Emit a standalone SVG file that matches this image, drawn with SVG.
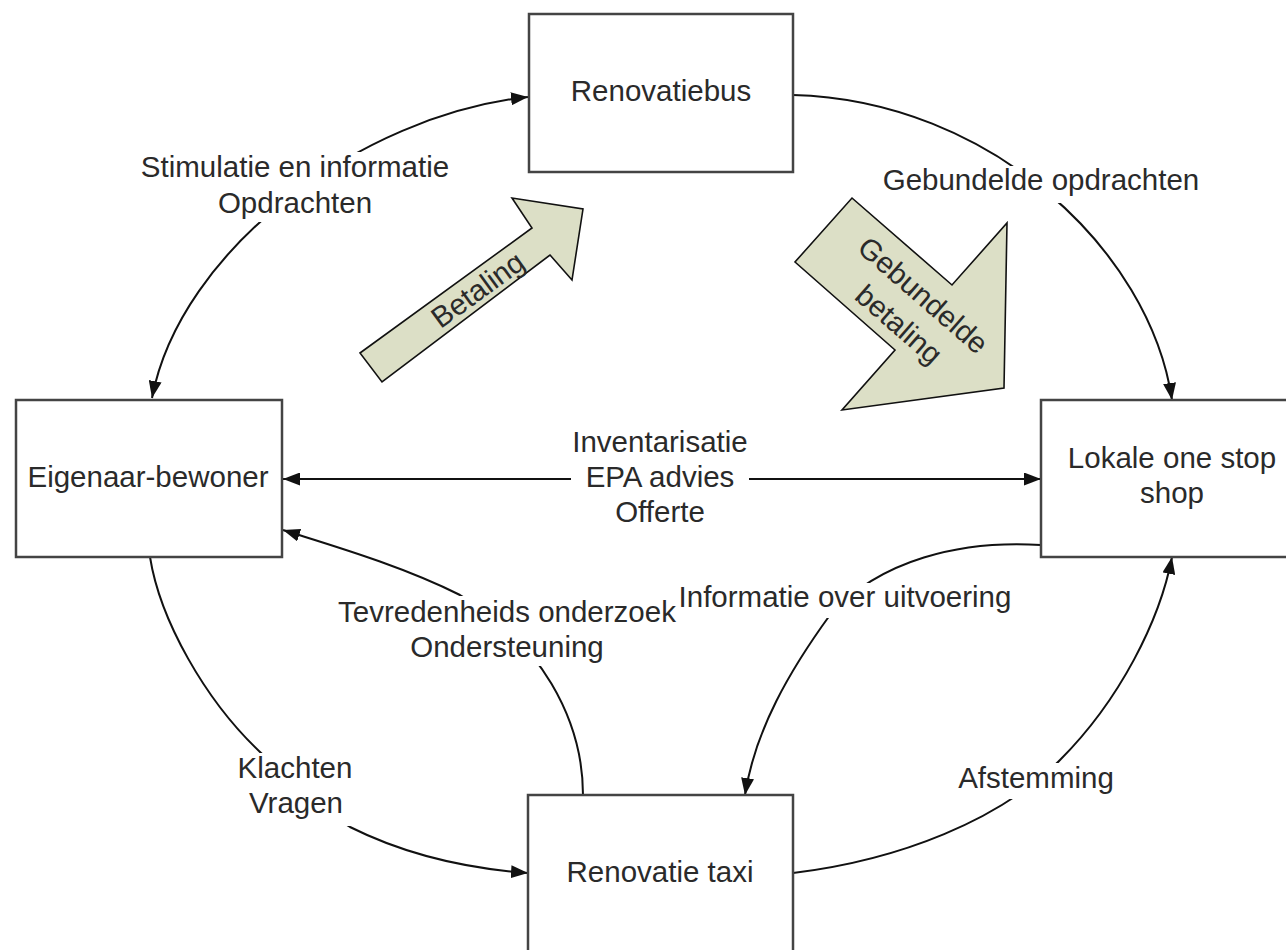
<svg xmlns="http://www.w3.org/2000/svg" width="1286" height="950" viewBox="0 0 1286 950">
<style>
  text { font-family: "Liberation Sans", Arial, sans-serif; font-size: 29.5px; fill: #2a2a2a; text-anchor: middle; }
  .box { fill: #fff; stroke: #444; stroke-width: 2.5; }
  .conn { fill: none; stroke: #111; stroke-width: 2; }
  .lblbg { fill: #fff; stroke: none; }
  .block { fill: #dcdfc6; stroke: #111; stroke-width: 1.6; stroke-linejoin: miter; }
</style>
<defs>
  <marker id="ah" markerUnits="userSpaceOnUse" markerWidth="17" markerHeight="13" refX="17" refY="6.5" orient="auto-start-reverse">
    <path d="M0,0 L17,6.5 L0,13 z" fill="#111"/>
  </marker>
</defs>
<rect width="1286" height="950" fill="#fff"/>

<g id="connectors">
  <path class="conn" d="M152 398 C180 250, 360 115, 528 97" marker-start="url(#ah)" marker-end="url(#ah)"/>
  <path class="conn" d="M793 95 C990 100, 1150 250, 1172 400" marker-end="url(#ah)"/>
  <path class="conn" d="M283 479 L1041 479" marker-start="url(#ah)" marker-end="url(#ah)"/>
  <path class="conn" d="M1041 545 C960 540, 880 560, 830 615 C790 670, 755 730, 745 795" marker-end="url(#ah)"/>
  <path class="conn" d="M793 873 C900 860, 1000 820, 1060 760 C1120 700, 1160 620, 1172 557" marker-end="url(#ah)"/>
  <path class="conn" d="M583 795 C583 720, 540 640, 460 595 C400 565, 330 545, 283 530" marker-end="url(#ah)"/>
  <path class="conn" d="M150 557 C160 620, 205 700, 260 752 C290 780, 320 810, 350 827 C400 852, 460 868, 528 873" marker-end="url(#ah)"/>

  <g id="label-stimulatie">
    <rect class="lblbg" x="136" y="152" width="318" height="70"/>
    <text x="295" y="177">Stimulatie en informatie</text>
    <text x="295" y="213">Opdrachten</text>
  </g>
  <g id="label-gebundelde-opdrachten">
    <rect class="lblbg" x="878" y="166" width="326" height="37"/>
    <text x="1041" y="190">Gebundelde opdrachten</text>
  </g>
  <g id="label-inventarisatie">
    <rect class="lblbg" x="571" y="426" width="178" height="104"/>
    <text x="660" y="452">Inventarisatie</text>
    <text x="660" y="487">EPA advies</text>
    <text x="660" y="522">Offerte</text>
  </g>
  <g id="label-tevredenheid">
    <rect class="lblbg" x="332" y="596" width="346" height="70"/>
    <text x="507" y="622">Tevredenheids onderzoek</text>
    <text x="507" y="657">Ondersteuning</text>
  </g>
  <g id="label-informatie">
    <rect class="lblbg" x="678" y="583" width="336" height="35"/>
    <text x="845" y="607">Informatie over uitvoering</text>
  </g>
  <g id="label-klachten">
    <rect class="lblbg" x="232" y="753" width="126" height="73"/>
    <text x="295" y="778">Klachten</text>
    <text x="296" y="813">Vragen</text>
  </g>
  <g id="label-afstemming">
    <rect class="lblbg" x="953" y="763" width="166" height="36"/>
    <text x="1036" y="788">Afstemming</text>
  </g>
</g>

<g id="betaling">
  <polygon class="block" points="360,353 532,228 512,198 583,209 572,280 550,255 382,382"/>
  <text transform="translate(371,367.5) rotate(-36)" x="132" y="10">Betaling</text>
</g>

<g id="gebundelde-betaling">
  <polygon class="block" points="852,198 952,285 1007,223 1004,388 842,410 895,350 795,262"/>
  <g transform="translate(823.5,230) rotate(41)">
    <text x="118" y="-6">Gebundelde</text>
    <text x="119" y="32">betaling</text>
  </g>
</g>

<g id="renovatiebus">
  <rect class="box" x="529" y="14" width="264" height="158"/>
  <text x="661" y="101">Renovatiebus</text>
</g>

<g id="eigenaar-bewoner">
  <rect class="box" x="16" y="400" width="266" height="157"/>
  <text x="148" y="487">Eigenaar-bewoner</text>
</g>

<g id="lokale-one-stop-shop">
  <rect class="box" x="1041" y="400" width="264" height="157"/>
  <text x="1172" y="468">Lokale one stop</text>
  <text x="1172" y="503">shop</text>
</g>

<g id="renovatie-taxi">
  <rect class="box" x="528" y="795" width="265" height="170"/>
  <text x="660" y="882">Renovatie taxi</text>
</g>
</svg>
